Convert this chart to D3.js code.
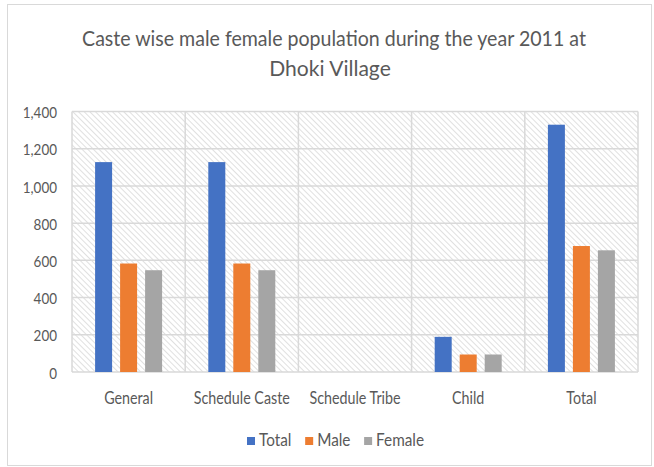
<!DOCTYPE html>
<html><head><meta charset="utf-8">
<script src="https://cdn.jsdelivr.net/npm/d3@7/dist/d3.min.js"></script>
<style>body{margin:0;background:#fff}svg{display:block}</style>
</head><body>
<svg id="c" width="654" height="467"></svg>
<script>
const categories = ["General", "Schedule Caste", "Schedule Tribe", "Child", "Total"];
const seriesNames = ["Total", "Male", "Female"];
const totalValues = [1128, 1128, 0, 189, 1329];
const maleValues = [583, 583, 0, 94, 677];
const femaleValues = [547, 547, 0, 94, 654];
const yTicks = [0, 200, 400, 600, 800, 1000, 1200, 1400];
const colors = ["#4472C4", "#ED7D31", "#A5A5A5"];
const titleLines = ["Caste wise male female population during the year 2011 at", "Dhoki Village"];

const series = [totalValues, maleValues, femaleValues];
const svg = d3.select("#c");
const font = "Lato, 'Open Sans', sans-serif";
const textColor = "#595959";
const squeeze = 0.84;

function condense(sel, k) {
  sel.each(function (d, i) {
    const f = typeof k === "function" ? k(d, i) : k;
    const w = this.getComputedTextLength();
    d3.select(this).attr("textLength", w * f).attr("lengthAdjust", "spacingAndGlyphs");
  });
}

// outer border
svg.append("rect").attr("x", 7.5).attr("y", 4.5).attr("width", 644).attr("height", 461)
  .attr("fill", "#fff").attr("stroke", "#d9d9d9").attr("stroke-width", 1);

// hatch pattern
const defs = svg.append("defs");
const pat = defs.append("pattern").attr("id", "hatch").attr("patternUnits", "userSpaceOnUse")
  .attr("width", 4).attr("height", 4).attr("patternTransform", "rotate(-45)");
pat.append("rect").attr("width", 4).attr("height", 4).attr("fill", "#fff");
pat.append("line").attr("x1", 0).attr("y1", 0).attr("x2", 0).attr("y2", 4)
  .attr("stroke", "#d6d6d6").attr("stroke-width", 1.5);

const pLeft = 72, pRight = 638, pTop = 111.5, pBottom = 372;
const x = d3.scaleBand().domain(categories).range([pLeft, pRight]);
const y = d3.scaleLinear().domain([0, 1400]).range([pBottom, pTop]);

svg.append("rect").attr("x", pLeft).attr("y", pTop).attr("width", pRight - pLeft).attr("height", pBottom - pTop)
  .attr("fill", "url(#hatch)");

// horizontal grid
svg.append("g").selectAll("line").data(yTicks).join("line")
  .attr("x1", pLeft).attr("x2", pRight).attr("y1", d => y(d)).attr("y2", d => y(d))
  .attr("stroke", "#d9d9d9").attr("stroke-width", 1.5);
// vertical grid
const vx = categories.map(c => x(c)).concat([pRight]);
svg.append("g").selectAll("line").data(vx).join("line")
  .attr("x1", d => d).attr("x2", d => d).attr("y1", pTop).attr("y2", pBottom)
  .attr("stroke", "#d9d9d9").attr("stroke-width", 1.5);

// bars
const barW = 17, gap = 8;
const groupW = 3 * barW + 2 * gap;
const inner = d3.scaleBand().domain(seriesNames).range([0, groupW]).paddingInner(gap / (barW + gap));
series.forEach((vals, si) => {
  svg.append("g").selectAll("rect").data(vals).join("rect")
    .attr("x", (d, i) => x(categories[i]) + (x.bandwidth() - groupW) / 2 + inner(seriesNames[si]))
    .attr("width", inner.bandwidth())
    .attr("y", d => y(d)).attr("height", d => y(0) - y(d))
    .attr("fill", colors[si]);
});

// y axis labels
const yAxis = d3.axisLeft(y).tickValues(yTicks).tickFormat(d3.format(",")).tickSize(0).tickPadding(0);
const ya = svg.append("g").attr("transform", `translate(57,1)`).call(yAxis);
ya.select(".domain").remove();
ya.selectAll("text").attr("font-family", font).attr("font-size", 16).attr("fill", textColor).call(condense, squeeze);

// x axis labels
const xAxis = d3.axisBottom(x).tickSize(0).tickPadding(0);
const xa = svg.append("g").attr("transform", `translate(0,${pBottom + 20})`).call(xAxis);
xa.select(".domain").remove();
xa.selectAll("text").attr("font-family", font).attr("font-size", 17).attr("fill", textColor).call(condense, squeeze);

// title
const tt = svg.append("g").selectAll("text").data(titleLines).join("text")
  .attr("x", (d, i) => i === 0 ? 334 : 330).attr("y", (d, i) => 46 + i * 30)
  .attr("text-anchor", "middle").attr("font-family", font).attr("font-size", 21.5)
  .attr("fill", textColor).text(d => d);
tt.call(condense, (d, i) => i === 0 ? 0.91 : 0.98);

// legend (flow layout)
const lg = svg.append("g");
let lx = 247;
const legSqueeze = 0.9;
seriesNames.forEach((name, i) => {
  lg.append("rect").attr("x", lx).attr("y", 437).attr("width", 8).attr("height", 8).attr("fill", colors[i]);
  const t = lg.append("text").attr("x", lx + 12).attr("y", 446).attr("font-family", font).attr("font-size", 17)
    .attr("fill", textColor).text(name);
  t.call(condense, legSqueeze);
  lx += 12 + t.node().getComputedTextLength() * legSqueeze + 17;
});
</script>
</body></html>
